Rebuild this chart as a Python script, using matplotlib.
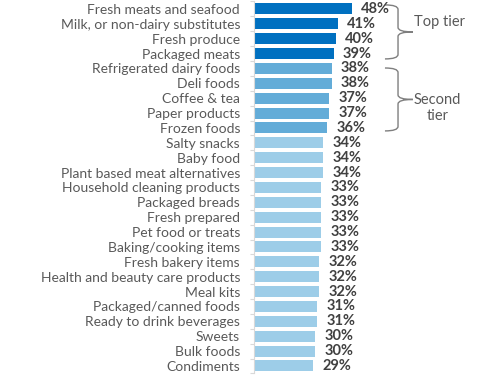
import matplotlib
matplotlib.use("Agg")
import matplotlib.pyplot as plt
from matplotlib.path import Path
from matplotlib.patches import PathPatch

categories = ["Fresh meats and seafood", "Milk, or non-dairy substitutes", "Fresh produce",
              "Packaged meats", "Refrigerated dairy foods", "Deli foods", "Coffee & tea",
              "Paper products", "Frozen foods", "Salty snacks", "Baby food",
              "Plant based meat alternatives", "Household cleaning products", "Packaged breads",
              "Fresh prepared", "Pet food or treats", "Baking/cooking items", "Fresh bakery items",
              "Health and beauty care products", "Meal kits", "Packaged/canned foods",
              "Ready to drink beverages", "Sweets", "Bulk foods", "Condiments"]
values = [48, 41, 40, 39, 38, 38, 37, 37, 36, 34, 34, 34, 33, 33, 33, 33, 33, 32, 32, 32,
          31, 31, 30, 30, 29]
tiers = ["top"] * 4 + ["second"] * 5 + ["rest"] * 16
tier_colors = {"top": "#0070C0", "second": "#63ACD8", "rest": "#9DCDE8"}
tier_groups = [("Top tier", 0, 3), ("Second\ntier", 4, 8)]

FONT = "Lato"
W, H = 500, 378
fig = plt.figure(figsize=(W / 100, H / 100), dpi=100)
ax = fig.add_axes([254 / W, (H - 373.4) / H, 246 / W, 371.9 / H])

n = len(categories)
ypos = list(range(n))
colors = [tier_colors[t] for t in tiers]
ax.barh(ypos, values, height=0.74, color=colors, edgecolor="none")
ax.set_xlim(0, 246 / 2.04)
ax.set_ylim(n - 0.5, -0.5)

for y, v in zip(ypos, values):
    ax.text(v + 4.4, y, f"{v}%", va="center", ha="left", fontsize=10.5, fontweight="bold",
            color="#404040", family=FONT)

ax.set_yticks(ypos)
ax.set_yticklabels(categories, fontsize=10, color="#595959", family=FONT)
ax.tick_params(axis="y", length=0, pad=10)
ax.set_yticks([i + 0.5 for i in range(-1, n)], minor=True)
ax.tick_params(axis="y", which="minor", length=3, color="#D9D9D9", width=0.8)
ax.set_xticks([])
for s in ["top", "right", "bottom"]:
    ax.spines[s].set_visible(False)
ax.spines["left"].set_color("#D9D9D9")
ax.spines["left"].set_linewidth(0.8)


def brace(ax, y0, y1, x0, x1, x2, r=0.3):
    ym = (y0 + y1) / 2
    verts = [(x0, y0), (x1, y0), (x1, y0 + r),
             (x1, ym - r), (x1, ym), (x2, ym),
             (x1, ym), (x1, ym + r),
             (x1, y1 - r), (x1, y1), (x0, y1)]
    codes = [Path.MOVETO, Path.CURVE3, Path.CURVE3,
             Path.LINETO, Path.CURVE3, Path.CURVE3,
             Path.CURVE3, Path.CURVE3,
             Path.LINETO, Path.CURVE3, Path.CURVE3]
    ax.add_patch(PathPatch(Path(verts, codes), fill=False, edgecolor="#7F7F7F", lw=1.0,
                           clip_on=False))
    return ym


bx0, bx1, bx2 = 64.2, 70.6, 77.9
brace_ext = [(-0.27, 3.36), (3.97, 8.2)]
text_off = [-0.68, 0.57]
for (label, a, b), (e0, e1), off in zip(tier_groups, brace_ext, text_off):
    ym = brace(ax, e0, e1, bx0, bx1, bx2)
    ax.text(bx2 + 0.3, ym + off, label, ha="left", va="center",
            fontsize=10.5, color="#595959", family=FONT, linespacing=1.15,
            multialignment="center")

fig.savefig("out.png", dpi=100)
